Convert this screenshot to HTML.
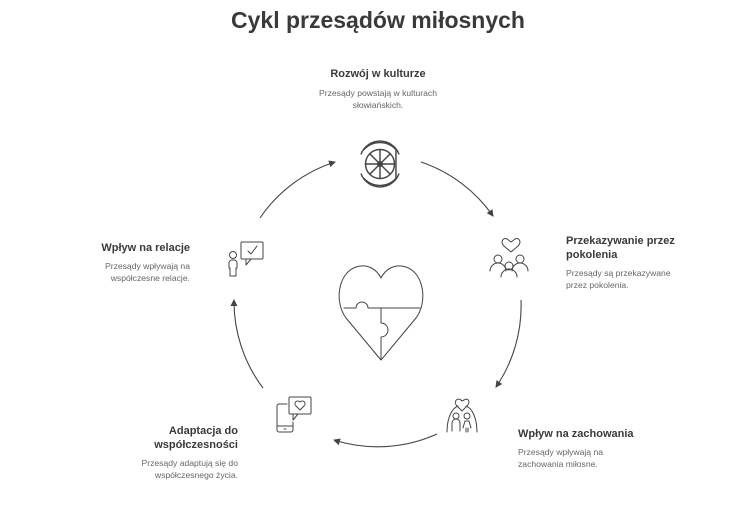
<!DOCTYPE html>
<html><head><meta charset="utf-8"><style>
html,body{margin:0;padding:0;background:#fff;}
svg{display:block;font-family:"Liberation Sans",sans-serif;}
.t{font-weight:bold;fill:#3a3a3a;font-size:11px;}
.d{fill:#666;font-size:8.6px;}
.ic{fill:none;stroke:#444;stroke-width:1;stroke-linecap:round;stroke-linejoin:round;}
.ar{fill:none;stroke:#444;stroke-width:1.1;}
</style></head><body>
<svg width="756" height="505" viewBox="0 0 756 505">
<defs><marker id="m" markerWidth="8" markerHeight="8" refX="6" refY="4" orient="auto" markerUnits="userSpaceOnUse"><path d="M0,0.5 L7,4 L0,7.5 Z" fill="#444"/></marker></defs>
<text x="378" y="28" text-anchor="middle" font-size="23" font-weight="bold" fill="#3a3a3a">Cykl przesądów miłosnych</text>

<text class="t" x="378" y="77" text-anchor="middle">Rozwój w kulturze</text>
<text class="d" x="378" y="96" text-anchor="middle">Przesądy powstają w kulturach</text>
<text class="d" x="378" y="108" text-anchor="middle">słowiańskich.</text>

<text class="t" x="566" y="244">Przekazywanie przez</text>
<text class="t" x="566" y="258">pokolenia</text>
<text class="d" x="566" y="276">Przesądy są przekazywane</text>
<text class="d" x="566" y="288">przez pokolenia.</text>

<text class="t" x="518" y="437">Wpływ na zachowania</text>
<text class="d" x="518" y="455">Przesądy wpływają na</text>
<text class="d" x="518" y="467">zachowania miłosne.</text>

<text class="t" x="238" y="434" text-anchor="end">Adaptacja do</text>
<text class="t" x="238" y="448" text-anchor="end">współczesności</text>
<text class="d" x="238" y="466" text-anchor="end">Przesądy adaptują się do</text>
<text class="d" x="238" y="478" text-anchor="end">współczesnego życia.</text>

<text class="t" x="190" y="251" text-anchor="end">Wpływ na relacje</text>
<text class="d" x="190" y="269" text-anchor="end">Przesądy wpływają na</text>
<text class="d" x="190" y="281" text-anchor="end">współczesne relacje.</text>

<path class="ar" d="M260,218 A144,144 0 0 1 335,162" marker-end="url(#m)"/>
<path class="ar" d="M421,162 A144,144 0 0 1 493,216" marker-end="url(#m)"/>
<path class="ar" d="M521,300 A144,144 0 0 1 496,387" marker-end="url(#m)"/>
<path class="ar" d="M437,434 A144,144 0 0 1 334,440" marker-end="url(#m)"/>
<path class="ar" d="M263,388 A144,144 0 0 1 234,300" marker-end="url(#m)"/>

<g class="ic" stroke-width="1.1">
<path d="M381,360 L346,318 C334,302 338,273 356,267 C368,263 377,270 381,278 C385,270 394,263 406,267 C424,273 428,302 416,318 Z"/>
<path d="M344,308 L356,308 A6,6 0 1 1 368,308 L420,308"/>
<path d="M381,308 L381,323 A7,7 0 1 1 381,337 L381,360"/>
</g>

<g class="ic" transform="translate(380,164) scale(1.45) translate(-381,-162)" stroke-width="0.75">
<path d="M370,152 A15,15 0 0 1 392,152 L392,172 A15,15 0 0 1 370,172"/>
<path d="M368,155 A14,14 0 0 1 394,155"/>
<path d="M368,169 A14,14 0 0 0 394,169"/>
<circle cx="381" cy="162" r="10"/>
<path d="M381,152 V172 M371,162 H391 M374,155 L388,169 M388,155 L374,169"/>
<circle cx="381" cy="162" r="1.6"/>
</g>

<g class="ic">
<path d="M511,252 L504,246 C500,242 503,237 507,239 L511,242 L515,239 C519,237 522,242 518,246 Z"/>
<circle cx="498" cy="259" r="4"/><path d="M490,271 A8,8 0 0 1 506,271"/>
<circle cx="520" cy="259" r="4"/><path d="M512,271 A8,8 0 0 1 528,271"/>
<circle cx="509" cy="266" r="4"/><path d="M501,277 A8,8 0 0 1 517,277"/>
</g>

<g class="ic">
<path d="M462,411 L457,406 C453,402 457,397 461,400 L462,401 L464,400 C468,397 471,402 467,406 Z"/>
<path d="M447,432 C447,418 452,408 458,406 M477,432 C477,418 472,408 466,406"/>
<circle cx="456" cy="416" r="3"/><path d="M452,431 V423 A4,4 0 0 1 460,423 V431"/>
<circle cx="467" cy="416" r="3"/><path d="M463,428 L465,421 H469 L471,428 M466,428 V432 M468,428 V432"/>
</g>

<g class="ic">
<path d="M287,404 H279 A2,2 0 0 0 277,406 V430 A2,2 0 0 0 279,432 H291 A2,2 0 0 0 293,430 V422"/>
<path d="M277,426 H293 M284,429 H286"/>
<rect x="289" y="397" width="22" height="17" rx="1"/>
<path d="M293,414 V420 L298,414"/>
<path d="M300,410 L296,406 C293,403 297,399 300,402 C303,399 307,403 304,406 Z"/>
</g>

<g class="ic">
<rect x="241" y="242" width="22" height="17" rx="1"/>
<path d="M246,259 V265 L251,259"/>
<path d="M248,251 L251,254 L257,246"/>
<circle cx="233" cy="255" r="3.5"/>
<path d="M230,276 V268 H229 V263 A3,3 0 0 1 232,260 H234 A3,3 0 0 1 237,263 V268 H236 V276 Z"/>
</g>
</svg>
</body></html>
